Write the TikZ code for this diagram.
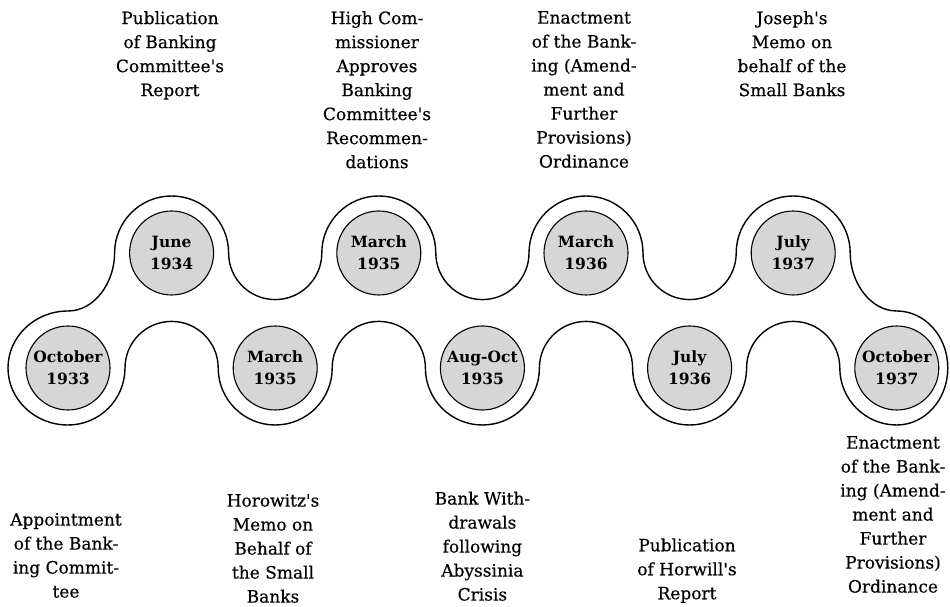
\documentclass[tikz,border=0pt]{standalone}
\usepackage{fontspec}
\setmainfont{DejaVu Serif}
\newfontfamily\lblfont[FakeBold=0.4]{DejaVu Serif}
\newcommand{\ap}{{\char"27}}
\begin{document}
\begin{tikzpicture}[x=1pt,y=1pt,
  band/.style={line width=1.4pt},
  datec/.style={circle, draw, line width=1.1pt, fill=black!16, minimum size=84pt, inner sep=0pt, align=center, font=\fontsize{15.5}{22}\selectfont\bfseries},
  lbl/.style={align=center, font=\fontsize{17}{24}\lblfont, inner sep=0pt}]
\useasboundingbox (0,0) rectangle (950,607);
% band outline
\draw[band] (114.6,354)
  arc[start angle=180, end angle=0, radius=57]
  arc[start angle=180, end angle=360, radius=46.6]
  arc[start angle=180, end angle=0, radius=57]
  arc[start angle=180, end angle=360, radius=46.6]
  arc[start angle=180, end angle=0, radius=57]
  arc[start angle=180, end angle=360, radius=46.6]
  arc[start angle=180, end angle=0, radius=57]
  .. controls (850.2,325) and (870,296) .. (896.8,296)
  arc[start angle=90, end angle=-90, x radius=51, y radius=57]
  arc[start angle=-90, end angle=-180, radius=57]
  arc[start angle=0, end angle=180, radius=46.6]
  arc[start angle=0, end angle=-180, radius=57]
  arc[start angle=0, end angle=180, radius=46.6]
  arc[start angle=0, end angle=-180, radius=57]
  arc[start angle=0, end angle=180, radius=46.6]
  arc[start angle=0, end angle=-180, radius=57]
  arc[start angle=0, end angle=180, radius=46.6]
  arc[start angle=0, end angle=-90, radius=57]
  arc[start angle=-90, end angle=-270, x radius=60, y radius=57]
  .. controls (95,296) and (114.6,325) .. (114.6,354) -- cycle;
% date circles
\node[datec] (d1) at (68,239) {October\\1933};
\node[datec] (d2) at (171.6,354) {June\\1934};
\node[datec] (d3) at (275.2,239) {March\\1935};
\node[datec] (d4) at (378.8,354) {March\\1935};
\node[datec] (d5) at (482.4,239) {Aug-Oct\\1935};
\node[datec] (d6) at (586,354) {March\\1936};
\node[datec] (d7) at (689.6,239) {July\\1936};
\node[datec] (d8) at (793.2,354) {July\\1937};
\node[datec] (d9) at (896.8,239) {October\\1937};
% top labels
\node[lbl, anchor=north] (t2) at (170,596) {Publication\\of Banking\\Committee\ap s\\Report};
\node[lbl, anchor=north] (t4) at (377,596) {High Com-\\missioner\\Approves\\Banking\\Committee\ap s\\Recommen-\\dations};
\node[lbl, anchor=north] (t6) at (584,596) {Enactment\\of the Bank-\\ing (Amend-\\ment and\\Further\\Provisions)\\Ordinance};
\node[lbl, anchor=north] (t8) at (792,596) {Joseph\ap s\\Memo on\\behalf of the\\Small Banks};
% bottom labels
\node[lbl, anchor=south] (b1) at (66,9) {Appointment\\of the Bank-\\ing Commit-\\tee};
\node[lbl, anchor=south] (b3) at (273,4) {Horowitz\ap s\\Memo on\\Behalf of\\the Small\\Banks};
\node[lbl, anchor=south] (b5) at (482.4,6) {Bank With-\\drawals\\following\\Abyssinia\\Crisis};
\node[lbl, anchor=south] (b7) at (687,4) {Publication\\of Horwill\ap s\\Report};
\node[lbl, anchor=south] (b9) at (893,14) {Enactment\\of the Bank-\\ing (Amend-\\ment and\\Further\\Provisions)\\Ordinance};
\end{tikzpicture}
\end{document}
